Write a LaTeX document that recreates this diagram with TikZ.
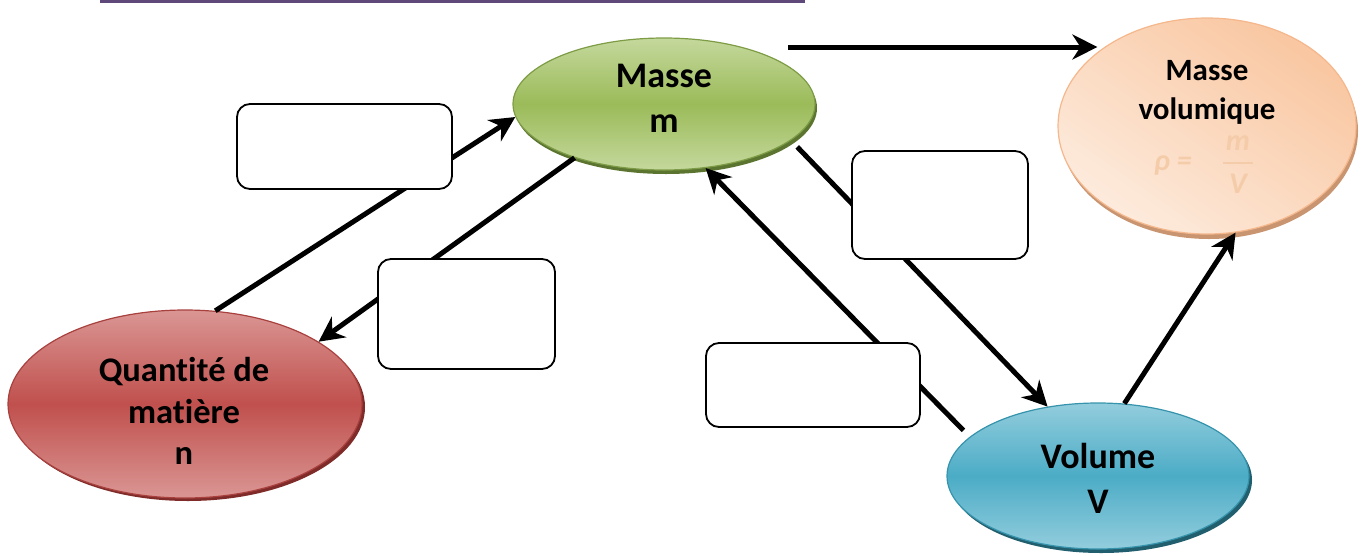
\documentclass[tikz,border=0pt]{standalone}
\usepackage{fontspec}
\setmainfont{Carlito}[Ligatures={NoCommon,NoRare,NoDiscretionary,NoContextual}]
\usetikzlibrary{arrows.meta,shapes.geometric,shadows,calc}
\definecolor{purp}{HTML}{5F497A}
\definecolor{grL}{HTML}{C4D89C}
\definecolor{grM}{HTML}{9BBB59}
\definecolor{grB}{HTML}{7E9C46}
\definecolor{grS}{HTML}{5B7530}
\definecolor{rdL}{HTML}{DA9694}
\definecolor{rdM}{HTML}{C0504D}
\definecolor{rdB}{HTML}{A8413E}
\definecolor{rdS}{HTML}{7F2B29}
\definecolor{blL}{HTML}{93CDDD}
\definecolor{blM}{HTML}{4BACC6}
\definecolor{blB}{HTML}{3593AC}
\definecolor{blS}{HTML}{215E6E}
\definecolor{orD}{HTML}{F9C6A0}
\definecolor{orL}{HTML}{FDEBDD}
\definecolor{orB}{HTML}{F5B78C}
\definecolor{orS}{HTML}{C99571}
\definecolor{formc}{HTML}{F5CCA9}
\begin{document}
\begin{tikzpicture}[x=1pt,y=-1pt,
  blob/.style={ellipse, inner sep=0pt, draw, line width=1.2pt},
  arr/.style={line width=5pt, -{Stealth[length=25pt,width=25pt,inset=8pt]}},
  blank/.style={draw, line width=1.8pt, fill=white, rounded corners=13pt, inner sep=0pt},
  lbl/.style={align=center, inner sep=0pt},
  fml/.style={inner sep=0pt, font=\fontsize{30}{34}\selectfont\bfseries\itshape\color{formc}}]
\useasboundingbox (0,0) rectangle (1362,555);
% top rule
\draw[purp, line width=3pt] (100,1.5) -- (805,1.5);
% ellipses
\node[blob, minimum width=302pt, minimum height=132pt, draw=grB,
  drop shadow={shadow xshift=2pt, shadow yshift=-4pt, opacity=1, fill=grS},
  top color=grL, bottom color=grL, middle color=grM] (masse) at (664,104) {};
\node[blob, minimum width=298pt, minimum height=216pt, draw=orB,
  drop shadow={shadow xshift=2pt, shadow yshift=-5pt, opacity=1, fill=orS},
  top color=orD, bottom color=orL, shading angle=-35] (mvol) at (1207,126) {};
\node[blob, minimum width=354pt, minimum height=188pt, draw=rdB,
  drop shadow={shadow xshift=3pt, shadow yshift=-3pt, opacity=1, fill=rdS},
  top color=rdL, bottom color=rdL, middle color=rdM] (qte) at (185,404) {};
\node[blob, minimum width=302pt, minimum height=146pt, draw=blB,
  drop shadow={shadow xshift=3pt, shadow yshift=-4pt, opacity=1, fill=blS},
  top color=blL, bottom color=blL, middle color=blM] (vol) at (1098,476) {};
% labels
\node[lbl, font=\fontsize{36}{45}\selectfont\bfseries] (tmasse) at (664,98) {Masse\\m};
\node[lbl, font=\fontsize{31}{39}\selectfont\bfseries] (tmvol) at (1207,92) {Masse\\volumique};
\node[fml, anchor=base west] (frho) at (1154,170) {ρ =};
\node[fml, anchor=base] (fnum) at (1238,150) {m};
\node[fml, anchor=base] (fden) at (1238,193) {V};
\draw[formc, line width=2.2pt] ($(fnum.base)+(-15,13)$) -- ++(30,0);
\node[lbl, font=\fontsize{34.5}{41.5}\selectfont\bfseries] (tqte) at (184,411) {Quantité de\\matière\\n};
\node[lbl, font=\fontsize{36}{45}\selectfont\bfseries] (tvol) at (1098,478) {Volume\\V};
% connectors
\coordinate (a1) at ($(masse.center)+(124,-57)$);
\draw[arr] (a1) -- (a1 -| mvol.146);
\draw[arr] (qte.72.3) -- (masse.185.7);
\draw[arr] (masse.211.2) -- (qte.25.1);
\draw[arr, shorten <=9pt] (masse.-16.4) -- (vol.126.6);
\draw[arr, shorten <=9pt] (vol.163.8) -- (masse.-57.3);
\draw[arr] (vol.70) -- (mvol.-75.6);
% blank boxes
\node[blank, minimum width=215pt, minimum height=85pt] (b1) at (344.5,146.5) {};
\node[blank, minimum width=177pt, minimum height=110pt] (b2) at (466.5,314) {};
\node[blank, minimum width=176pt, minimum height=108pt] (b3) at (940,205) {};
\node[blank, minimum width=214pt, minimum height=84pt] (b4) at (813,385) {};
\end{tikzpicture}
\end{document}
